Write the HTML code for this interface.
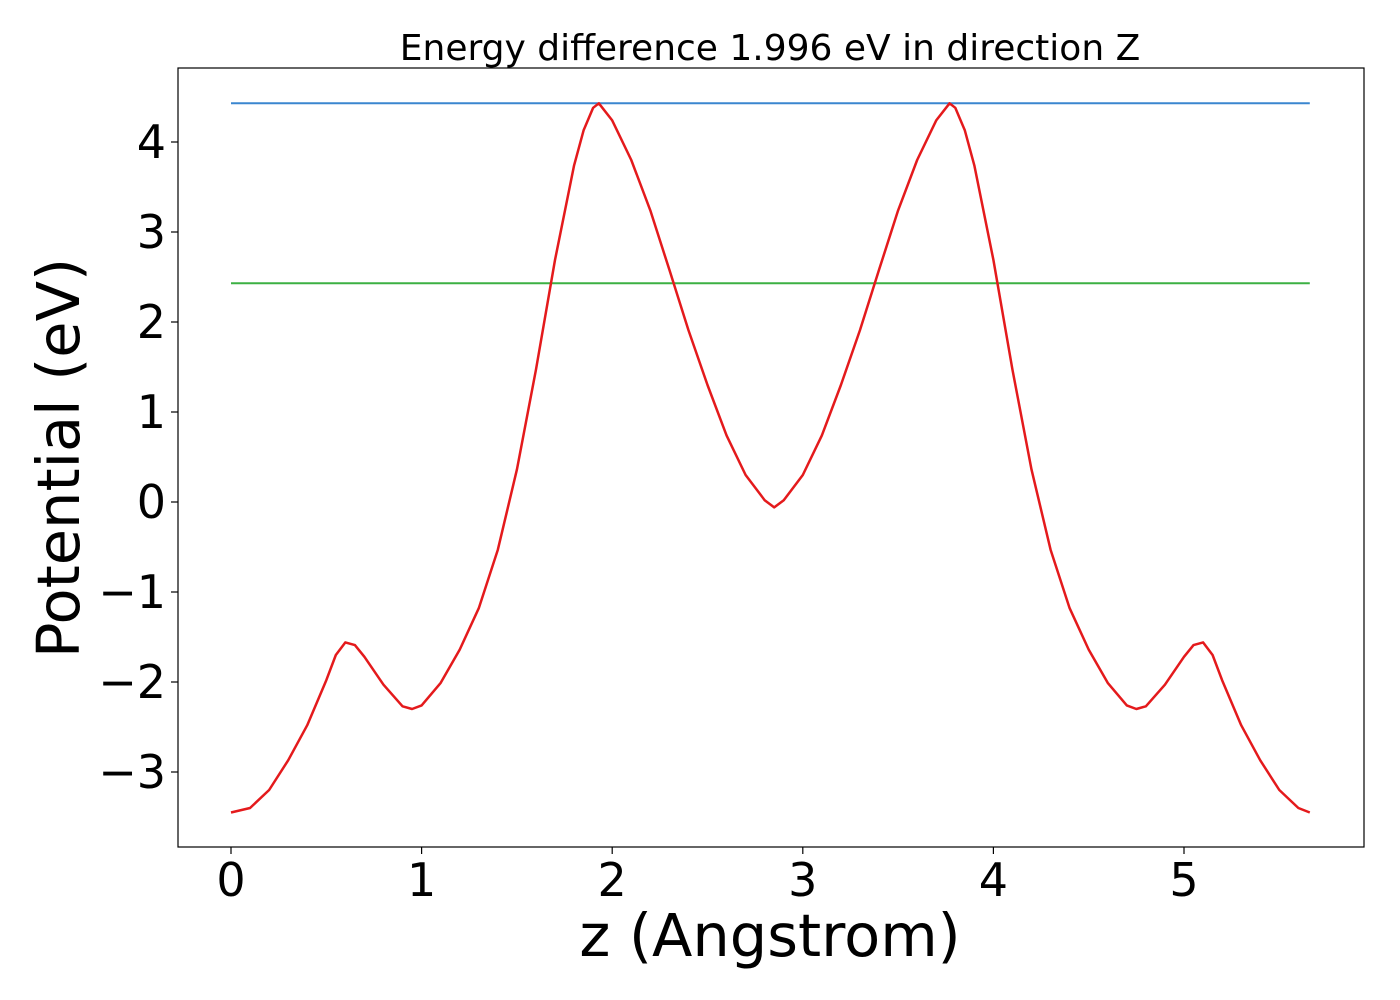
<!DOCTYPE html>
<html><head><meta charset="utf-8"><style>body{margin:0;background:#fff}svg{display:block;font-family:"DejaVu Sans","Liberation Sans",sans-serif}</style></head>
<body>
<svg id="chart" width="1400" height="1000">
<rect x="178" y="68" width="1186" height="779" fill="none" stroke="#000" stroke-width="1.2"/>
<text x="770" y="60" font-size="36" text-anchor="middle">Energy difference 1.996 eV in direction Z</text>
<text x="770" y="956" font-size="59" text-anchor="middle">z (Angstrom)</text>
<text transform="translate(79,458) rotate(-90)" font-size="59" text-anchor="middle">Potential (eV)</text>
<g id="axes"></g>
<g id="marks"></g>
</svg>
<script>
const xTicks=[0,1,2,3,4,5];
const yTicks=[-3,-2,-1,0,1,2,3,4];
const zVals=[0,0.1,0.2,0.3,0.4,0.5,0.55,0.6,0.65,0.7,0.8,0.9,0.95,1.0,1.1,1.2,1.3,1.4,1.5,1.6,1.7,1.8,1.85,1.9,1.93,2.0,2.1,2.2,2.3,2.4,2.5,2.6,2.7,2.8,2.85,2.9,3.0,3.1,3.2,3.3,3.4,3.5,3.6,3.7,3.77,3.8,3.85,3.9,4.0,4.1,4.2,4.3,4.4,4.5,4.6,4.7,4.75,4.8,4.9,5.0,5.05,5.1,5.15,5.2,5.3,5.4,5.5,5.6,5.66];
const potVals=[-3.45,-3.4,-3.2,-2.87,-2.48,-1.98,-1.7,-1.56,-1.59,-1.72,-2.03,-2.27,-2.3,-2.26,-2.01,-1.64,-1.18,-0.53,0.36,1.47,2.69,3.74,4.13,4.38,4.43,4.24,3.8,3.24,2.58,1.91,1.3,0.74,0.3,0.02,-0.06,0.02,0.3,0.74,1.3,1.91,2.58,3.24,3.8,4.24,4.43,4.38,4.13,3.74,2.69,1.47,0.36,-0.53,-1.18,-1.64,-2.01,-2.26,-2.3,-2.27,-2.03,-1.72,-1.59,-1.56,-1.7,-1.98,-2.48,-2.87,-3.2,-3.4,-3.45];
const levelVals=[4.43,2.43];
const levelColors=["#3a86cf","#3cb043"];
const xDomain=[0,5.66];
const NS="http://www.w3.org/2000/svg";
function X(v){return 231+v*190.6;}
function Y(v){return 502-v*90;}
const axes=document.getElementById('axes'),marks=document.getElementById('marks');
function mk(tag,attrs,parent){const e=document.createElementNS(NS,tag);for(const k in attrs)e.setAttribute(k,attrs[k]);parent.appendChild(e);return e;}
xTicks.forEach(t=>{
 const l=mk('line',{x1:X(t),x2:X(t),y1:847,y2:854,stroke:'#000','stroke-width':1.2},axes);
 
 
 const tx=mk('text',{x:X(t),y:896,'font-size':46,'text-anchor':'middle'},axes);
 tx.textContent=String(t);
 
 
});
yTicks.forEach(t=>{
 const l=mk('line',{x1:171,x2:178,y1:Y(t),y2:Y(t),stroke:'#000','stroke-width':1.2},axes);
 
 
 const tx=mk('text',{x:166,y:Y(t)+16,'font-size':46,'text-anchor':'end'},axes);
 tx.textContent=(t<0?'\u2212':'')+Math.abs(t);
 
 
});
levelVals.forEach((v,i)=>{
 const l=mk('line',{x1:X(xDomain[0]),x2:X(xDomain[1]),y1:Y(v),y2:Y(v),stroke:levelColors[i],'stroke-width':2},marks);
 
 
});
const p=mk('polyline',{points:zVals.map((z,i)=>X(z)+','+Y(potVals[i])).join(' '),fill:'none',stroke:'#e41a1c','stroke-width':2.5,'stroke-linejoin':'round'},marks);


</script>
</body></html>
